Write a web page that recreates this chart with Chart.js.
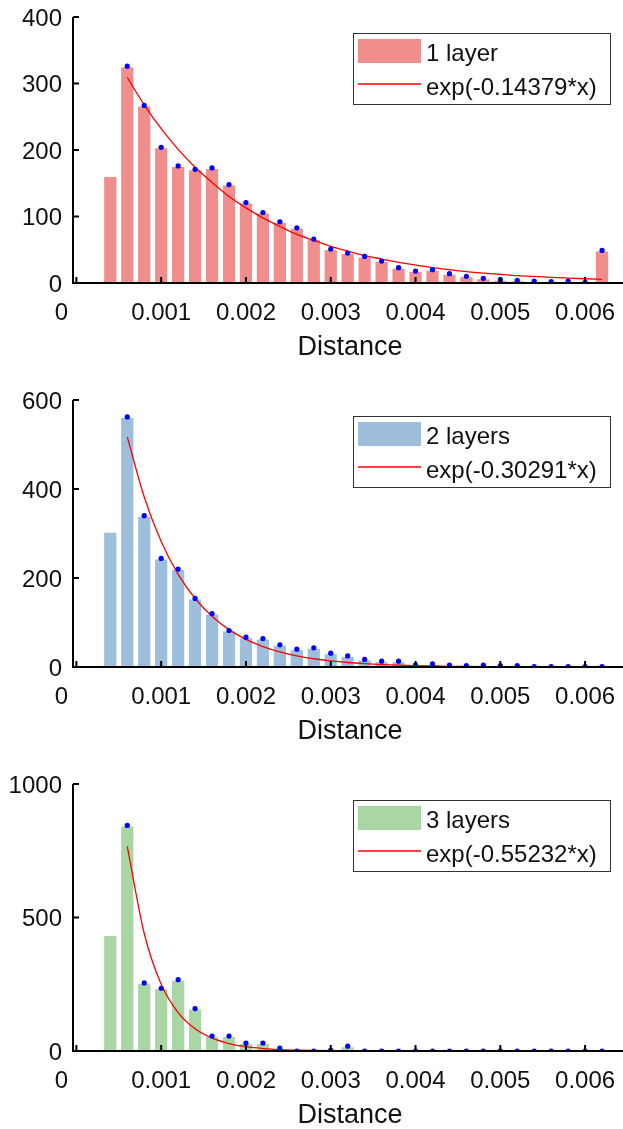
<!DOCTYPE html>
<html>
<head>
<meta charset="utf-8">
<script src="https://cdn.jsdelivr.net/npm/chart.js@4.4.1/dist/chart.umd.min.js"></script>
<style>
html, body { margin: 0; padding: 0; background: #fff; }
#wrap { position: relative; width: 623px; height: 1129px; }
canvas { position: absolute; left: 0; }
</style>
</head>
<body>
<div id="wrap">
  <canvas id="c1" width="623" height="376" style="top:0px"></canvas>
  <canvas id="c2" width="623" height="384" style="top:376px"></canvas>
  <canvas id="c3" width="623" height="369" style="top:760px"></canvas>
</div>
<script>
// bin centres (distance)
const bins = [0.0004, 0.0006, 0.0008, 0.0010, 0.0012, 0.0014, 0.0016, 0.0018, 0.0020, 0.0022,
              0.0024, 0.0026, 0.0028, 0.0030, 0.0032, 0.0034, 0.0036, 0.0038, 0.0040, 0.0042,
              0.0044, 0.0046, 0.0048, 0.0050, 0.0052, 0.0054, 0.0056, 0.0058, 0.0060, 0.0062];

// histogram counts
const layer1 = [161, 326, 267, 204, 176, 171, 173, 148, 121, 106, 92, 83, 66, 51, 45,
                40, 33, 23, 18, 20, 14, 10, 7, 5, 4, 3, 2, 3, 1, 49];
const layer2 = [304, 562, 340, 244, 220, 154, 120, 82, 67, 64, 50, 40, 43, 31, 25,
                17, 13, 13, 5, 7, 4, 3, 4, 3, 3, 1, 1, 1, 1, 1];
const layer3 = [434, 845, 255, 235, 267, 159, 56, 56, 30, 30, 11, 0, 0, 3, 18,
                0, 0, 0, 0, 0, 0, 0, 0, 0, 0, 0, 0, 0, 0, 0];

// fitted curves, read at bins 0.0006 .. 0.0062
const fit1 = [309, 268, 232, 201, 174, 151, 130, 113, 98, 85, 73, 64, 55, 48, 41,
              36, 31, 27, 23, 20, 17, 15, 13, 11, 10, 8.5, 7.4, 6.4, 5.5];
const fit2 = [517, 382, 282, 208, 154, 114, 84, 62, 46, 34, 25, 18.5, 13.7, 10.1, 7.5,
              5.5, 4.1, 3.0, 2.2, 1.6, 1.2, 0.9, 0.7, 0.5, 0.4, 0.3, 0.2, 0.15, 0.1];
const fit3 = [766, 440, 250, 144, 83, 48, 28, 16, 9.2, 5.3, 3.1, 1.8, 1.0, 0.6, 0.3,
              0.2, 0.1, 0.1, 0, 0, 0, 0, 0, 0, 0, 0, 0, 0, 0];

const xTicks = [0, 0.001, 0.002, 0.003, 0.004, 0.005, 0.006];
const yTicks1 = [0, 100, 200, 300, 400];
const yTicks2 = [0, 200, 400, 600];
const yTicks3 = [0, 500, 1000];

const FONT = '"Liberation Sans", Arial, Helvetica, sans-serif';

// axes, ticks, labels and legend drawn by hand to match the MATLAB look
const axesPlugin = {
    id: 'axes',
    afterDraw(chart, args, o) {
        const { ctx, chartArea: a, scales: { x, y } } = chart;
        ctx.save();
        ctx.strokeStyle = '#000';
        ctx.lineWidth = 2;
        ctx.beginPath();
        ctx.moveTo(a.left, a.top);
        ctx.lineTo(a.left, a.bottom);
        ctx.lineTo(chart.width, a.bottom);
        ctx.stroke();

        ctx.fillStyle = '#111';
        ctx.font = '24px ' + FONT;
        ctx.textAlign = 'right';
        ctx.textBaseline = 'alphabetic';
        o.yTicks.forEach(v => {
            const py = y.getPixelForValue(v);
            ctx.beginPath();
            ctx.moveTo(a.left, py);
            ctx.lineTo(a.left + 6, py);
            ctx.stroke();
            ctx.fillText(String(v), a.left - 11, py + 8.6);
        });

        ctx.textAlign = 'center';
        xTicks.forEach(v => {
            const px = x.getPixelForValue(v);
            ctx.beginPath();
            ctx.moveTo(px, a.bottom);
            ctx.lineTo(px, a.bottom - 6);
            ctx.stroke();
            const lx = v === 0 ? px - 15 : px;
            ctx.fillText(v === 0 ? '0' : v.toFixed(3), lx, a.bottom + 37);
        });

        ctx.font = '27px ' + FONT;
        ctx.fillText('Distance', (a.left + chart.width) / 2 + 2, a.bottom + 72);

        // legend box
        const bx = 353, by = a.top + 16, bw = 257, bh = 71;
        ctx.fillStyle = '#fff';
        ctx.fillRect(bx, by, bw, bh);
        ctx.lineWidth = 1;
        ctx.strokeStyle = '#333';
        ctx.strokeRect(bx + 0.5, by + 0.5, bw, bh);
        ctx.fillStyle = o.color;
        ctx.fillRect(bx + 5, by + 6, 63, 24);
        ctx.strokeStyle = '#ff0000';
        ctx.lineWidth = 1.5;
        ctx.beginPath();
        ctx.moveTo(bx + 5, by + 51);
        ctx.lineTo(bx + 68, by + 51);
        ctx.stroke();
        ctx.fillStyle = '#111';
        ctx.font = '24px ' + FONT;
        ctx.textAlign = 'left';
        ctx.fillText(o.label, bx + 73, by + 28);
        ctx.fillText(o.fitLabel, bx + 73, by + 62);
        ctx.restore();
    }
};

function makePanel(id, counts, fit, color, label, fitLabel, yMax, yTicks, padTop, padBottom) {
    const fitX = bins.slice(1);
    new Chart(document.getElementById(id), {
        type: 'bar',
        data: {
            datasets: [
                {
                    type: 'line',
                    data: fitX.map((b, i) => ({ x: b, y: counts[i + 1] })),
                    showLine: false,
                    pointRadius: 2.6,
                    pointBackgroundColor: '#0000ff',
                    pointBorderWidth: 0,
                    order: 1
                },
                {
                    type: 'line',
                    data: fitX.map((b, i) => ({ x: b, y: fit[i] })),
                    borderColor: '#ff0000',
                    borderWidth: 1.3,
                    pointRadius: 0,
                    tension: 0.4,
                    cubicInterpolationMode: 'monotone',
                    order: 2
                },
                {
                    type: 'bar',
                    data: bins.map((b, i) => ({ x: b, y: counts[i] })),
                    backgroundColor: color,
                    borderColor: 'rgba(255,255,255,0.2)',
                    borderWidth: 1,
                    borderSkipped: false,
                    barPercentage: 0.84,
                    categoryPercentage: 1.0,
                    order: 3
                }
            ]
        },
        options: {
            responsive: false,
            animation: false,
            layout: { padding: { left: 73, right: 0, top: padTop, bottom: padBottom } },
            scales: {
                x: {
                    type: 'linear', min: -0.00004, max: 0.0064, offset: false, display: false,
                    // ticks at the bin centres so the bar ruler uses the bin spacing
                    afterBuildTicks: s => { s.ticks = bins.map(v => ({ value: v })); }
                },
                y: { min: 0, max: yMax, display: false }
            },
            plugins: {
                legend: { display: false },
                tooltip: { enabled: false },
                axes: { yTicks, color, label, fitLabel }
            }
        },
        plugins: [axesPlugin]
    });
}

makePanel('c1', layer1, fit1, '#f08d8d', '1 layer', 'exp(-0.14379*x)', 400, yTicks1, 17, 93);
makePanel('c2', layer2, fit2, '#9dbfdb', '2 layers', 'exp(-0.30291*x)', 600, yTicks2, 24, 93);
makePanel('c3', layer3, fit3, '#a9d6a4', '3 layers', 'exp(-0.55232*x)', 1000, yTicks3, 24, 78);
</script>
</body>
</html>
